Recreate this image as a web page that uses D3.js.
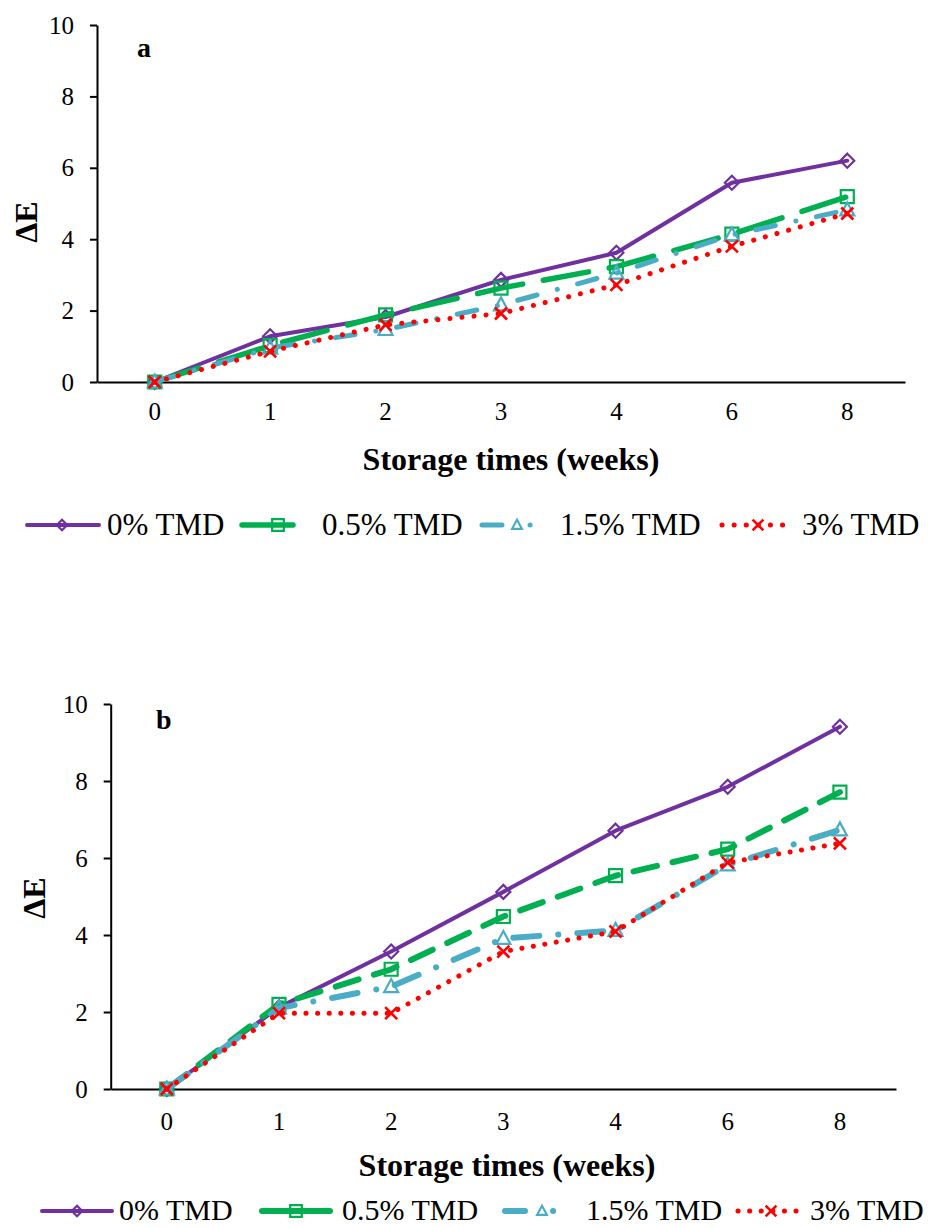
<!DOCTYPE html>
<html>
<head>
<meta charset="utf-8">
<script src="https://cdn.jsdelivr.net/npm/d3@7"></script>
<style>
  html, body { margin: 0; padding: 0; background: #fff; }
  svg { display: block; }
  text { font-family: "Liberation Serif", "Times New Roman", serif; fill: #000; }
</style>
</head>
<body>
<svg id="chart" width="928" height="1228"></svg>
<script>
// ---------- data ----------
const weeks = ["0", "1", "2", "3", "4", "6", "8"];
const seriesNames = ["0% TMD", "0.5% TMD", "1.5% TMD", "3% TMD"];
const yTicks = [0, 2, 4, 6, 8, 10];

// panel a
const panelA_0   = [0, 1.28, 1.82, 2.86, 3.62, 5.58, 6.20];
const panelA_05  = [0, 1.02, 1.88, 2.63, 3.23, 4.14, 5.19];
const panelA_15  = [0, 0.95, 1.47, 2.16, 3.05, 4.12, 4.82];
const panelA_3   = [0, 0.86, 1.60, 1.92, 2.72, 3.80, 4.72];
// panel b
const panelB_0   = [0, 2.12, 3.57, 5.12, 6.71, 7.85, 9.41];
const panelB_05  = [0, 2.20, 3.11, 4.48, 5.54, 6.23, 7.71];
const panelB_15  = [0, 2.10, 2.66, 3.91, 4.12, 5.82, 6.73];
const panelB_3   = [0, 1.97, 1.97, 3.57, 4.09, 5.88, 6.38];

// ---------- styles ----------
const colors = ["#7030A0", "#00B050", "#4BACC6", "#FF0000"];
const markers = ["diamond", "square", "triangle", "x"];

const svg = d3.select("#chart");

function markerPath(type, s) {
  s = s || 1;
  if (type === "diamond") return `M0,${-7*s}L${7*s},0L0,${7*s}L${-7*s},0Z`;
  if (type === "square") return `M${-6.5*s},${-6.5*s}H${6.5*s}V${6.5*s}H${-6.5*s}Z`;
  if (type === "triangle") return `M0,${-7.5*s}L${7*s},${5.5*s}L${-7*s},${5.5*s}Z`;
  return `M${-6*s},${-6*s}L${6*s},${6*s}M${6*s},${-6*s}L${-6*s},${6*s}`;
}

function drawMarker(g, type, color, x, y, s) {
  g.append("path")
    .attr("d", markerPath(type, s))
    .attr("transform", `translate(${x},${y})`)
    .attr("fill", "none")
    .attr("stroke", color)
    .attr("stroke-width", type === "x" ? 2.6 : 2.2)
    .attr("stroke-linejoin", "miter");
}

function drawPanel(cfg) {
  const g = svg.append("g");
  const x = d3.scaleBand().domain(weeks).range([cfg.left, cfg.right]).padding(0);
  const y = d3.scaleLinear().domain([0, 10]).range([cfg.bottom, cfg.top]);
  const cx = d => x(d) + x.bandwidth() / 2;

  // y axis
  const ya = g.append("g")
    .attr("transform", `translate(${cfg.left},0)`)
    .call(d3.axisLeft(y).tickValues(yTicks).tickSize(7).tickSizeOuter(0).tickPadding(16).tickFormat(d3.format("d")));
  ya.selectAll("path, line").attr("stroke", "#000").attr("stroke-width", 2);
  ya.selectAll("text").attr("font-size", 25).attr("font-family", "Liberation Serif").attr("fill", "#000");

  // x axis
  const xa = g.append("g")
    .attr("transform", `translate(0,${cfg.bottom})`)
    .call(d3.axisBottom(x).tickSize(0).tickSizeOuter(0).tickPadding(cfg.xPad));
  xa.selectAll("path").attr("stroke", "#000").attr("stroke-width", 2);
  xa.selectAll("text").attr("font-size", 25).attr("font-family", "Liberation Serif").attr("fill", "#000");

  // axis titles
  g.append("text")
    .attr("transform", `translate(${cfg.yTitleX},${cfg.yTitleY}) rotate(-90)`)
    .attr("text-anchor", "middle")
    .attr("font-size", 32).attr("font-weight", "bold")
    .text("ΔE");
  g.append("text")
    .attr("x", cfg.xTitleX).attr("y", cfg.xTitleY)
    .attr("text-anchor", "middle")
    .attr("font-size", 32).attr("font-weight", "bold")
    .text("Storage times (weeks)");
  g.append("text")
    .attr("x", cfg.labelX).attr("y", cfg.labelY)
    .attr("font-size", 28).attr("font-weight", "bold")
    .text(cfg.label);

  // series
  cfg.series.forEach((vals, i) => {
    const st = cfg.styles[i];
    const line = d3.line()
      .x((d, j) => cx(weeks[j]))
      .y(d => y(d))
      .curve(d3.curveLinear);
    g.append("path")
      .datum(vals)
      .attr("d", line)
      .attr("fill", "none")
      .attr("stroke", colors[i])
      .attr("stroke-width", st.width)
      .attr("stroke-dasharray", st.dash)
      .attr("stroke-linecap", st.cap)
      .attr("stroke-linejoin", "round");
    vals.forEach((v, j) => drawMarker(g, markers[i], colors[i], cx(weeks[j]), y(v), 1));
  });

  // legend
  cfg.legend.forEach((L, i) => {
    const st = cfg.styles[i];
    g.append("line")
      .attr("x1", L.x1).attr("x2", L.x2)
      .attr("y1", cfg.legendLineY).attr("y2", cfg.legendLineY)
      .attr("stroke", colors[i])
      .attr("stroke-width", st.width)
      .attr("stroke-dasharray", L.dash || st.dash)
      .attr("stroke-linecap", st.cap);
    drawMarker(g, markers[i], colors[i], L.mx, cfg.legendLineY, L.ms);
    g.append("text")
      .attr("x", L.tx).attr("y", cfg.legendTextY)
      .attr("font-size", cfg.legendFont)
      .text(seriesNames[i]);
  });
}

drawPanel({
  label: "a", labelX: 137, labelY: 57,
  left: 97, right: 905, top: 25, bottom: 382, xPad: 20,
  yTitleX: 37, yTitleY: 222, xTitleX: 511, xTitleY: 470,
  series: [panelA_0, panelA_05, panelA_15, panelA_3],
  styles: [
    { width: 4, dash: null, cap: "round" },
    { width: 5.5, dash: "46,21", cap: "round" },
    { width: 5, dash: "20,21,0.1,21", cap: "round" },
    { width: 5, dash: "0.1,12", cap: "round" }
  ],
  legendLineY: 525, legendTextY: 535, legendFont: 31,
  legend: [
    { x1: 27, x2: 99, mx: 62, ms: 0.75, tx: 107, dash: "none" },
    { x1: 242, x2: 293, mx: 278, ms: 0.9, tx: 322, dash: "none" },
    { x1: 482, x2: 531, mx: 517, ms: 0.7, tx: 560, dash: "20,28,0.1,40" },
    { x1: 722, x2: 793, mx: 758, ms: 0.9, tx: 802 }
  ]
});

drawPanel({
  label: "b", labelX: 156, labelY: 729,
  left: 110.7, right: 896, top: 704, bottom: 1089, xPad: 23,
  yTitleX: 45, yTitleY: 898, xTitleX: 507, xTitleY: 1176,
  series: [panelB_0, panelB_05, panelB_15, panelB_3],
  styles: [
    { width: 4, dash: null, cap: "round" },
    { width: 6, dash: "24,16", cap: "round" },
    { width: 6, dash: "26,19,0.1,19", cap: "round" },
    { width: 5, dash: "0.1,11.5", cap: "round" }
  ],
  legendLineY: 1211, legendTextY: 1220, legendFont: 30,
  legend: [
    { x1: 42, x2: 112, mx: 77, ms: 0.75, tx: 119, dash: "none" },
    { x1: 262, x2: 330, mx: 296, ms: 0.9, tx: 342, dash: "none" },
    { x1: 505, x2: 554, mx: 542, ms: 0.7, tx: 586, dash: "20,28,0.1,40" },
    { x1: 738, x2: 804, mx: 771, ms: 0.9, tx: 810 }
  ]
});
</script>
</body>
</html>
